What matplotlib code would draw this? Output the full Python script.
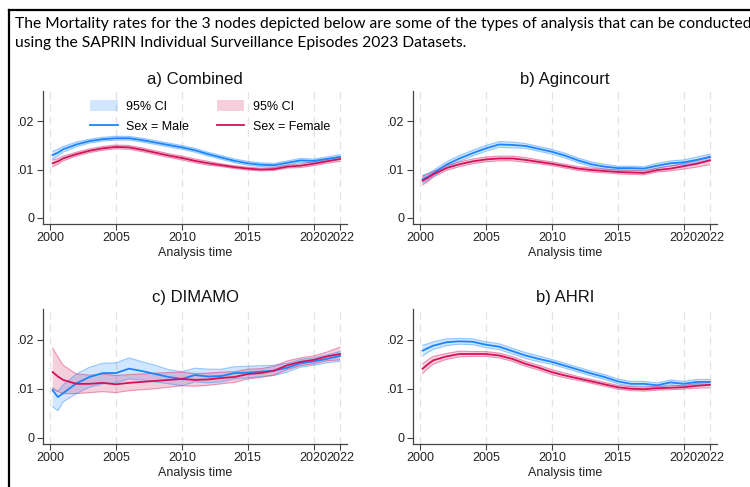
import numpy as np
import matplotlib
matplotlib.use("Agg")
import matplotlib.pyplot as plt
from matplotlib.lines import Line2D
from matplotlib.patches import Patch

plt.rcParams["font.family"] = ["Liberation Sans", "DejaVu Sans"]

# analysis time (years)
years = [2000.2, 2000.6, 2001, 2002, 2003, 2004, 2005, 2006, 2007, 2008, 2009, 2010,
         2011, 2012, 2013, 2014, 2015, 2016, 2017, 2018, 2019, 2020, 2021, 2022]

# a) Combined
comb_male = [0.0130, 0.0135, 0.0142, 0.0152, 0.0159, 0.0163, 0.0165, 0.0165, 0.0161, 0.0156, 0.0151, 0.0146,
             0.0140, 0.0132, 0.0125, 0.0118, 0.0113, 0.0110, 0.0109, 0.0114, 0.0119, 0.0118, 0.0122, 0.0126]
comb_female = [0.0113, 0.0117, 0.0123, 0.0132, 0.0139, 0.0144, 0.0147, 0.0146, 0.0141, 0.0135, 0.0129, 0.0124,
               0.0118, 0.0113, 0.0109, 0.0105, 0.0102, 0.0100, 0.0101, 0.0106, 0.0108, 0.0112, 0.0117, 0.0122]
comb_male_ci = [0.0008, 0.0007, 0.0006, 0.0005, 0.0004, 0.0004, 0.0004, 0.0004, 0.0004, 0.0004, 0.0004, 0.0004,
                0.0004, 0.0004, 0.0004, 0.0004, 0.0004, 0.0004, 0.0004, 0.0004, 0.0004, 0.0004, 0.0004, 0.0005]
comb_female_ci = [0.0007, 0.0006, 0.0005, 0.0004, 0.0004, 0.0004, 0.0004, 0.0004, 0.0004, 0.0004, 0.0004, 0.0004,
                  0.0004, 0.0004, 0.0003, 0.0003, 0.0003, 0.0003, 0.0003, 0.0003, 0.0004, 0.0004, 0.0004, 0.0005]

# b) Agincourt
agin_male = [0.0080, 0.0085, 0.0092, 0.0110, 0.0123, 0.0134, 0.0144, 0.0152, 0.0151, 0.0149, 0.0143, 0.0137,
             0.0129, 0.0119, 0.0111, 0.0106, 0.0103, 0.0103, 0.0102, 0.0108, 0.0113, 0.0115, 0.0120, 0.0126]
agin_female = [0.0077, 0.0083, 0.0090, 0.0103, 0.0111, 0.0117, 0.0121, 0.0123, 0.0123, 0.0120, 0.0116, 0.0112,
               0.0107, 0.0102, 0.0099, 0.0097, 0.0095, 0.0094, 0.0093, 0.0099, 0.0102, 0.0107, 0.0112, 0.0119]
agin_male_ci = [0.0008, 0.0007, 0.0006, 0.0006, 0.0006, 0.0006, 0.0006, 0.0006, 0.0006, 0.0005, 0.0005, 0.0005,
                0.0005, 0.0005, 0.0005, 0.0005, 0.0004, 0.0004, 0.0004, 0.0005, 0.0005, 0.0005, 0.0006, 0.0006]
agin_female_ci = [0.0009, 0.0008, 0.0006, 0.0005, 0.0005, 0.0005, 0.0005, 0.0005, 0.0005, 0.0005, 0.0004, 0.0004,
                  0.0004, 0.0004, 0.0004, 0.0004, 0.0004, 0.0004, 0.0004, 0.0004, 0.0005, 0.0006, 0.0007, 0.0009]

# c) DIMAMO
dim_male = [0.0097, 0.0083, 0.0091, 0.0111, 0.0124, 0.0132, 0.0132, 0.0141, 0.0136, 0.0130, 0.0124, 0.0120,
            0.0128, 0.0125, 0.0126, 0.0132, 0.0133, 0.0135, 0.0137, 0.0143, 0.0152, 0.0156, 0.0161, 0.0167]
dim_male_lo = [0.0063, 0.0055, 0.0073, 0.0090, 0.0103, 0.0110, 0.0112, 0.0120, 0.0118, 0.0114, 0.0110, 0.0106,
               0.0114, 0.0112, 0.0114, 0.0120, 0.0122, 0.0125, 0.0127, 0.0134, 0.0144, 0.0148, 0.0153, 0.0156]
dim_male_hi = [0.0102, 0.0095, 0.0108, 0.0130, 0.0144, 0.0152, 0.0153, 0.0163, 0.0155, 0.0148, 0.0139, 0.0135,
               0.0142, 0.0140, 0.0140, 0.0145, 0.0146, 0.0147, 0.0148, 0.0152, 0.0160, 0.0163, 0.0169, 0.0176]
dim_female = [0.0134, 0.0125, 0.0118, 0.0110, 0.0110, 0.0112, 0.0109, 0.0112, 0.0114, 0.0116, 0.0118, 0.0120,
              0.0118, 0.0119, 0.0122, 0.0124, 0.0130, 0.0132, 0.0137, 0.0148, 0.0155, 0.0159, 0.0166, 0.0171]
dim_female_lo = [0.0100, 0.0094, 0.0090, 0.0090, 0.0092, 0.0094, 0.0092, 0.0096, 0.0098, 0.0100, 0.0103, 0.0106,
                 0.0105, 0.0107, 0.0110, 0.0113, 0.0120, 0.0123, 0.0128, 0.0139, 0.0147, 0.0151, 0.0157, 0.0159]
dim_female_hi = [0.0183, 0.0165, 0.0148, 0.0130, 0.0128, 0.0130, 0.0127, 0.0129, 0.0130, 0.0132, 0.0133, 0.0134,
                 0.0131, 0.0132, 0.0134, 0.0135, 0.0140, 0.0141, 0.0146, 0.0157, 0.0163, 0.0167, 0.0175, 0.0185]

# d) AHRI
ahri_male = [0.0178, 0.0183, 0.0188, 0.0195, 0.0197, 0.0196, 0.0190, 0.0186, 0.0177, 0.0168, 0.0161, 0.0155,
             0.0147, 0.0139, 0.0131, 0.0124, 0.0115, 0.0110, 0.0110, 0.0107, 0.0113, 0.0110, 0.0114, 0.0114]
ahri_female = [0.0141, 0.0150, 0.0158, 0.0166, 0.0171, 0.0171, 0.0171, 0.0168, 0.0161, 0.0151, 0.0143, 0.0134,
               0.0127, 0.0121, 0.0115, 0.0109, 0.0103, 0.0100, 0.0099, 0.0101, 0.0102, 0.0103, 0.0106, 0.0108]
ahri_male_ci = [0.0011, 0.0009, 0.0008, 0.0007, 0.0006, 0.0006, 0.0006, 0.0006, 0.0006, 0.0006, 0.0006, 0.0005,
                0.0005, 0.0005, 0.0005, 0.0005, 0.0005, 0.0005, 0.0005, 0.0005, 0.0005, 0.0005, 0.0005, 0.0005]
ahri_female_ci = [0.0010, 0.0009, 0.0008, 0.0006, 0.0006, 0.0005, 0.0005, 0.0005, 0.0005, 0.0005, 0.0005, 0.0005,
                  0.0005, 0.0004, 0.0004, 0.0004, 0.0004, 0.0004, 0.0004, 0.0004, 0.0004, 0.0004, 0.0005, 0.0006]

titles = ["a) Combined", "b) Agincourt", "c) DIMAMO", "b) AHRI"]
xticks = [2000, 2005, 2010, 2015, 2020, 2022]
yticks = [0, 0.01, 0.02]
ytick_labels = ["0", ".01", ".02"]

header = ("The Mortality rates for the 3 nodes depicted below are some of the types of analysis that can be conducted\n"
          "using the SAPRIN Individual Surveillance Episodes 2023 Datasets.")

MALE = "#1a85ff"
FEMALE = "#d41159"


def band(mid, half):
    m = np.array(mid)
    h = np.array(half)
    return m - h, m + h


panels = [
    (comb_male, *band(comb_male, comb_male_ci), comb_female, *band(comb_female, comb_female_ci)),
    (agin_male, *band(agin_male, agin_male_ci), agin_female, *band(agin_female, agin_female_ci)),
    (dim_male, dim_male_lo, dim_male_hi, dim_female, dim_female_lo, dim_female_hi),
    (ahri_male, *band(ahri_male, ahri_male_ci), ahri_female, *band(ahri_female, ahri_female_ci)),
]

fig = plt.figure(figsize=(7.5, 4.87), dpi=100)

# axes boxes in pixels: left, top, right, bottom
boxes = [(43, 91, 347, 224), (413, 91, 717, 224), (43, 309, 347, 444), (413, 309, 717, 444)]

for i, (box, title, data) in enumerate(zip(boxes, titles, panels)):
    l, t, r, b = box
    ax = fig.add_axes([l / 750, (487 - b) / 487, (r - l) / 750, (b - t) / 487])
    m, mlo, mhi, f, flo, fhi = data

    ax.fill_between(years, mlo, mhi, facecolor=MALE, alpha=0.2, lw=0)
    ax.plot(years, mlo, color=MALE, alpha=0.4, lw=0.8)
    ax.plot(years, mhi, color=MALE, alpha=0.4, lw=0.8)
    ax.fill_between(years, flo, fhi, facecolor=FEMALE, alpha=0.2, lw=0)
    ax.plot(years, flo, color=FEMALE, alpha=0.4, lw=0.8)
    ax.plot(years, fhi, color=FEMALE, alpha=0.4, lw=0.8)
    ax.plot(years, m, color=MALE, lw=1.3)
    ax.plot(years, f, color=FEMALE, lw=1.3)

    for x in xticks:
        ax.axvline(x, color="#e3e3e3", lw=0.9, ls=(0, (6, 4)), zorder=0)

    ax.set_xlim(1999.47, 2022.53)
    ax.set_ylim(-0.0013, 0.0263)
    ax.set_xticks(xticks)
    ax.set_xticklabels([str(x) for x in xticks], fontsize=9, color="#222222")
    ax.set_yticks(yticks)
    ax.set_yticklabels(ytick_labels, fontsize=9, color="#222222")
    ax.tick_params(direction="out", length=4, width=0.8, color="#444444", pad=2)
    for s in ["top", "right"]:
        ax.spines[s].set_visible(False)
    for s in ["left", "bottom"]:
        ax.spines[s].set_color("#444444")
        ax.spines[s].set_linewidth(0.9)
    ax.set_xlabel("Analysis time", fontsize=9, labelpad=2, color="#222222")
    ax.set_title(title, fontsize=12, pad=5, color="#111111")

    if i == 0:
        handles = [Patch(facecolor=MALE, alpha=0.2, edgecolor="none"),
                   Line2D([], [], color=MALE, lw=1.3),
                   Patch(facecolor=FEMALE, alpha=0.2, edgecolor="none"),
                   Line2D([], [], color=FEMALE, lw=1.3)]
        labels = ["95% CI", "Sex = Male", "95% CI", "Sex = Female"]
        ax.legend(handles, labels, ncol=2, loc="upper left", bbox_to_anchor=(0.155, 0.93),
                  frameon=False, fontsize=9, handlelength=2.2, handleheight=0.9,
                  handletextpad=0.7, columnspacing=2.2, labelspacing=0.6,
                  borderpad=0, borderaxespad=0)

# header text, sized to the width of the box
txt = fig.text(15 / 750, 1 - 17 / 487, header, fontsize=11, family=["Lato", "DejaVu Sans"],
               va="top", ha="left", linespacing=1.5)
fig.canvas.draw()
w = txt.get_window_extent().width
txt.set_fontsize(11 * 733 / w)

# frame lines
fig.add_artist(Line2D([9 / 750, 9 / 750], [0, 1 - 10 / 487], color="black", lw=1.6))
fig.add_artist(Line2D([9 / 750, 1], [1 - 10 / 487, 1 - 10 / 487], color="black", lw=1.6))

fig.savefig("out.png", dpi=100)
